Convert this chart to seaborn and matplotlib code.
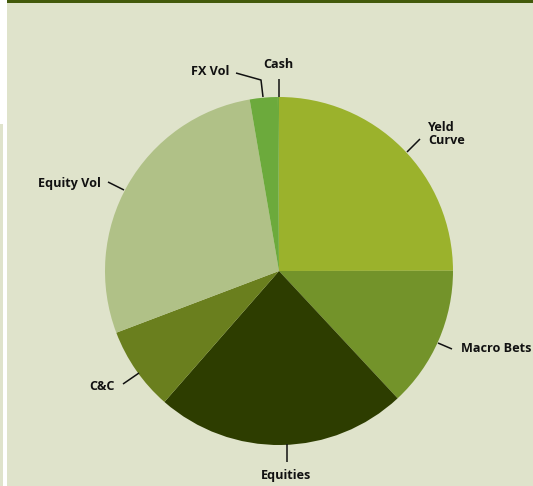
import matplotlib
matplotlib.use("Agg")
import matplotlib.pyplot as plt
import seaborn as sns
from matplotlib.patches import Rectangle

sns.set_theme(style="white")
plt.rcParams['font.family'] = ['Open Sans', 'DejaVu Sans']

categories = ["Yeld\nCurve", "Macro Bets", "Equities", "C&C", "Equity Vol", "FX Vol", "Cash"]
values = [25.0, 13.1, 23.4, 7.8, 28.1, 2.6, 0.1]
colors = ["#9BB22C", "#73932A", "#2D3D00", "#6A7F1E", "#B0C187", "#6CAA3C", "#6CAA3C"]

W, H = 533, 486
fig = plt.figure(figsize=(W / 100, H / 100), dpi=100)
fig.patch.set_facecolor("white")
ax = fig.add_axes([0, 0, 1, 1])
ax.set_xlim(0, W)
ax.set_ylim(0, H)
ax.axis("off")

def Y(y):
    return H - y

# background panel, top bar, left strip
ax.add_patch(Rectangle((7, 0), W - 7, H - 3, facecolor="#DFE3CB", edgecolor="none", zorder=0))
ax.add_patch(Rectangle((7, H - 3), W - 7, 3, facecolor="#435A0B", edgecolor="none", zorder=0))
ax.add_patch(Rectangle((0, 0), 2.5, H - 124, facecolor="#DFE3CB", edgecolor="none", zorder=0))

cx, cy, r = 279, Y(271), 174
ax.pie(values, colors=colors, startangle=90, counterclock=False,
       center=(cx, cy), radius=r, wedgeprops=dict(linewidth=0), frame=True)
ax.set_xlim(0, W)
ax.set_ylim(0, H)
ax.set_aspect("equal")
ax.axis("off")

fs = 9.1
kw = dict(fontsize=fs, fontweight="bold", color="#111111", zorder=5)

# labels (pixel positions from reference)
ax.text(428, Y(134), categories[0], ha="left", va="center", linespacing=0.95, **kw)
ax.text(531, Y(349), categories[1], ha="right", va="center", **kw)
ax.text(286, Y(475), categories[2], ha="center", va="center", **kw)
ax.text(115, Y(387), categories[3], ha="right", va="center", **kw)
ax.text(101, Y(184), categories[4], ha="right", va="center", **kw)
ax.text(229, Y(72), categories[5], ha="right", va="center", **kw)
ax.text(278, Y(65), categories[6], ha="center", va="center", **kw)

lk = dict(color="#111111", linewidth=1.1, zorder=4, solid_capstyle="butt")
ax.plot([407, 420], [Y(152), Y(139)], **lk)
ax.plot([438, 452], [Y(343), Y(349)], **lk)
ax.plot([287, 287], [Y(444), Y(462)], **lk)
ax.plot([123, 139], [Y(384), Y(373)], **lk)
ax.plot([108, 124], [Y(182), Y(190)], **lk)
ax.plot([236, 261, 263], [Y(73), Y(80), Y(97)], **lk)
ax.plot([279, 279], [Y(79), Y(97)], **lk)

fig.savefig("out.png", dpi=100, facecolor=fig.get_facecolor())
